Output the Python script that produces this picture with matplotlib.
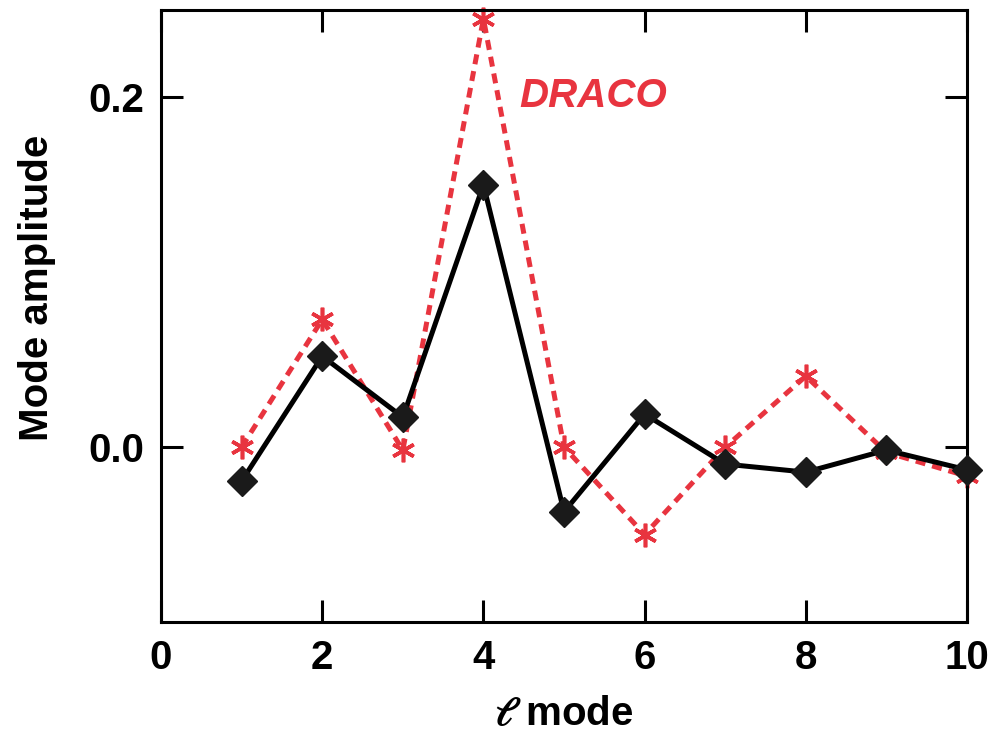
import matplotlib
matplotlib.use("Agg")
import matplotlib.pyplot as plt

modes = [1, 2, 3, 4, 5, 6, 7, 8, 9, 10]
black_amp = [-0.0194, 0.052, 0.0171, 0.150, -0.037, 0.0189, -0.0097, -0.0143, -0.0017, -0.013]
draco_amp = [0.0, 0.073, -0.0017, 0.245, 0.0, -0.050, 0.0, 0.0406, -0.003, -0.0166]
xticks = [0, 2, 4, 6, 8, 10]
yticks = [0.0, 0.2]
ytick_labels = ["0.0", "0.2"]

red = "#e8343f"
plt.rcParams['font.family'] = ['Liberation Sans', 'DejaVu Sans']
plt.rcParams['font.weight'] = 'bold'
plt.rcParams['mathtext.fontset'] = 'stix'

fig = plt.figure(figsize=(9.96, 7.34), dpi=100)
ax = fig.add_axes([0.1617, 0.1526, 0.8092, 0.8338])

ax.plot(modes, draco_amp, color=red, lw=3.6, ls=(0, (2.0, 1.4)),
        marker=(6, 2, 0), markersize=17, markeredgewidth=2.6, zorder=2,
        clip_on=False)
ax.plot(modes, black_amp, color="black", lw=3.6, marker="D",
        markersize=15, markerfacecolor="#1a1a1a", markeredgecolor="#1a1a1a", zorder=3,
        clip_on=False)

ax.set_xlim(0, 10)
ax.set_ylim(-0.1, 0.25)
ax.set_xticks(xticks)
ax.set_yticks(yticks)
ax.set_yticklabels(ytick_labels)
ax.tick_params(direction='in', length=16, width=2.2, top=True, right=True,
               labelsize=29, pad=12)
for lab in ax.get_xticklabels() + ax.get_yticklabels():
    lab.set_fontweight('bold')
for s in ax.spines.values():
    s.set_linewidth(2.2)

ax.set_xlabel(r"$\ell$ mode", fontsize=29, fontweight='bold', labelpad=13)
ax.set_ylabel("Mode amplitude", fontsize=29, fontweight='bold', va='center')
ax.yaxis.set_label_coords(-0.154, 0.546)

ax.text(4.45, 0.201, "DRACO", color=red, fontsize=29, fontweight='bold',
        fontstyle='italic', ha='left', va='center')

fig.savefig("out.png", dpi=100)
